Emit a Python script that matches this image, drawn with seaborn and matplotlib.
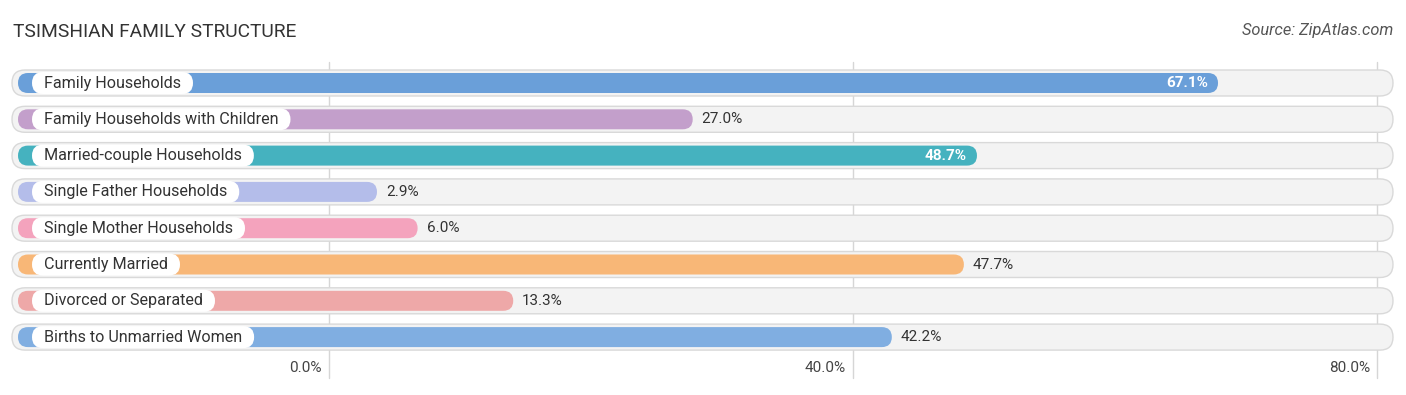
import matplotlib
matplotlib.use("Agg")
import matplotlib.pyplot as plt
import seaborn as sns
import numpy as np
from matplotlib.patches import FancyBboxPatch

# dados
categories = ["Family Households", "Family Households with Children", "Married-couple Households",
              "Single Father Households", "Single Mother Households", "Currently Married",
              "Divorced or Separated", "Births to Unmarried Women"]
values = [67.1, 27.0, 48.7, 2.9, 6.0, 47.7, 13.3, 42.2]
colors = ["#6a9fd9", "#c39fcb", "#45b2bf", "#b4bdea", "#f4a3bd", "#f8b777", "#eea8a8", "#80aee1"]
inside = [True, False, True, False, False, False, False, False]
ticks = [0, 40, 80]
tick_labels = ["0.0%", "40.0%", "80.0%"]

# escala em pixels da figura
W, H = 1406, 395
X0, PPU = 329, 13.1          # pixel do 0% e pixels por ponto percentual
Y0, ROW = 83, 36.3           # centro da primeira linha e espaçamento

def px(xp):
    return (xp - X0) / PPU

def py(yp):
    return (yp - Y0) / ROW

sns.set_style("white")
plt.rcParams['font.family'] = ['Roboto', 'DejaVu Sans']

fig = plt.figure(figsize=(W / 100, H / 100), dpi=100)
ax = fig.add_axes([0, 0, 1, 1])

sns.barplot(x=values, y=categories, hue=categories, palette=colors, orient="h",
            legend=False, width=20 / ROW, ax=ax)

ax.set_xlim(px(0), px(W))
ax.set_ylim(py(H), py(0))
ax.axis("off")

aspect = (1 / ROW) / (1 / PPU)
r_bar = 10 / PPU
r_track = 13 / PPU

# trocar retângulos por barras arredondadas
bars = list(ax.patches)
for i, p in enumerate(bars):
    y, h, w = p.get_y(), p.get_height(), p.get_width()
    p.remove()
    yc = y + h / 2
    # trilho de fundo
    th = 26 / ROW
    track = FancyBboxPatch((px(12), yc - th / 2), px(1393) - px(12), th,
                           boxstyle=f"round,pad=0,rounding_size={r_track}",
                           mutation_aspect=aspect, fc="#f3f3f3", ec="#d9d9d9", lw=1, zorder=1)
    ax.add_patch(track)
    left = px(18)
    right = w + r_bar
    bar = FancyBboxPatch((left, y), right - left, h,
                         boxstyle=f"round,pad=0,rounding_size={r_bar}",
                         mutation_aspect=aspect, fc=colors[i], ec="none", zorder=3)
    ax.add_patch(bar)
    # rótulo da categoria
    t = ax.text(px(44), yc, categories[i], ha="left", va="center", fontsize=11.6,
                color="#333333", zorder=5)
    t._row = yc
    # valor
    if inside[i]:
        ax.text(w, yc, f"{values[i]:.1f}%", ha="right", va="center", fontsize=11,
                color="white", fontweight="bold", zorder=5)
    else:
        ax.text(w + 1.45, yc, f"{values[i]:.1f}%", ha="left", va="center", fontsize=11,
                color="#333333", zorder=5)

# pílulas brancas atrás dos rótulos
fig.canvas.draw()
renderer = fig.canvas.get_renderer()
for t in [t for t in ax.texts if hasattr(t, "_row")]:
    bb = t.get_window_extent(renderer)
    x1 = ax.transData.inverted().transform((bb.x1, 0))[0]
    ph = 22 / ROW
    pill = FancyBboxPatch((px(32), t._row - ph / 2), x1 + 12 / PPU - px(32), ph,
                          boxstyle=f"round,pad=0,rounding_size={11 / PPU}",
                          mutation_aspect=aspect, fc="white", ec="none", zorder=4)
    ax.add_patch(pill)

# grade e rótulos do eixo
for tk, lab in zip(ticks, tick_labels):
    ax.plot([tk, tk], [py(62), py(378)], color="#d6d6d6", lw=1, zorder=0.5)
    ax.text(tk - 7 / PPU, py(368), lab, ha="right", va="center", fontsize=11, color="#444444")

fig.text(13 / W, 1 - 32 / H, "TSIMSHIAN FAMILY STRUCTURE", ha="left", va="center",
         fontsize=13.8, color="#333333")
fig.text(1393 / W, 1 - 31 / H, "Source: ZipAtlas.com", ha="right", va="center",
         fontsize=11.8, color="#555555", style="italic")

fig.savefig("out.png", dpi=100)
